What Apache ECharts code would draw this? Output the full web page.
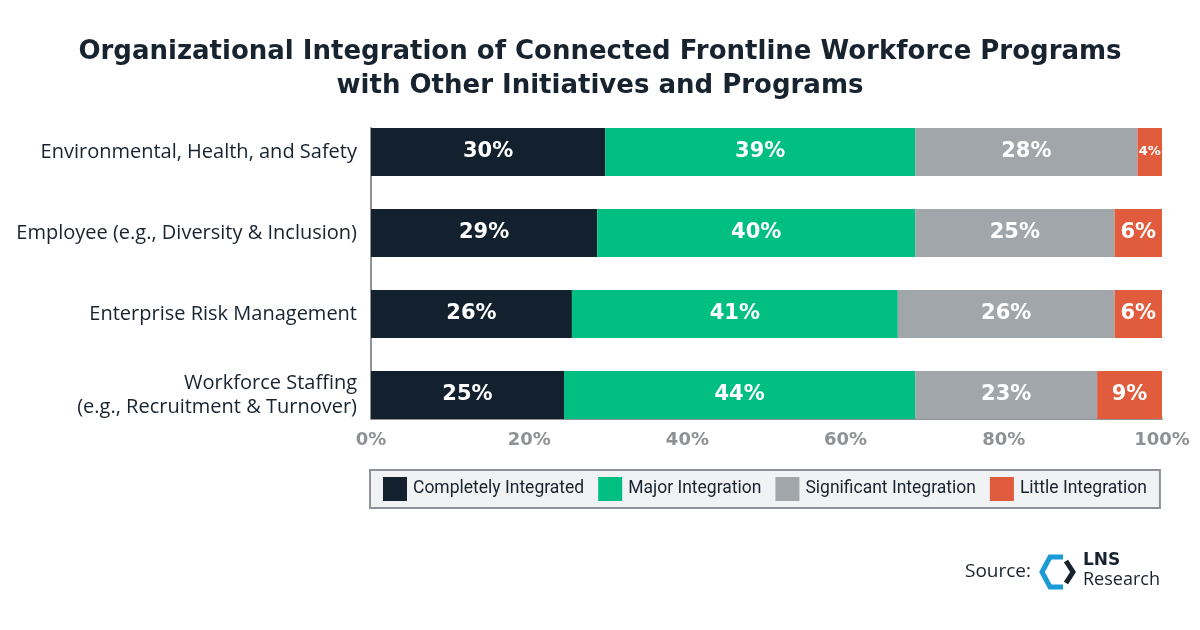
<!DOCTYPE html>
<html>
<head>
<meta charset="utf-8">
<script src="https://cdn.jsdelivr.net/npm/echarts@6/dist/echarts.min.js"></script>
<style>
  html, body { margin: 0; padding: 0; background: #fff; }
  #chart { width: 1200px; height: 630px; }
</style>
</head>
<body>
<div id="chart"></div>
<script>
// categories, top to bottom
var categories = [
  'Environmental, Health, and Safety',
  'Employee (e.g., Diversity & Inclusion)',
  'Enterprise Risk Management',
  'Workforce Staffing\n(e.g., Recruitment & Turnover)'
];
var seriesNames = ['Completely Integrated', 'Major Integration', 'Significant Integration', 'Little Integration'];

// segment widths (they don't always match the rounded labels)
var completely = [29.6, 28.6, 25.4, 24.4];
var major = [39.2, 40.2, 41.2, 44.4];
var significant = [28.1, 25.2, 27.4, 23.0];
var little = [3.1, 6.0, 6.0, 8.2];

// the printed labels
var completelyLbl = [30, 29, 26, 25];
var majorLbl = [39, 40, 41, 44];
var significantLbl = [28, 25, 26, 23];
var littleLbl = [4, 6, 6, 9];

var xTicks = [0, 20, 40, 60, 80, 100];

var colors = ['#13212f', '#00bf81', '#a1a6ab', '#e05c3d'];
var navy = '#17232f';

function makeSeries(idx, values, lbls) {
  return {
    name: seriesNames[idx],
    type: 'bar',
    stack: 'total',
    xAxisIndex: 0,
    yAxisIndex: 0,
    barWidth: 48,
    itemStyle: { color: colors[idx] },
    label: {
      show: true,
      position: 'inside',
      color: '#fff',
      fontFamily: 'DejaVu Sans',
      fontWeight: 'bold',
      fontSize: 21,
      formatter: function (p) { return lbls[p.dataIndex] + '%'; }
    },
    data: values.map(function (v) {
      // very thin segment gets a smaller label
      if (v < 4) return { value: v, label: { fontSize: 13 } };
      return v;
    })
  };
}

var chart = echarts.init(document.getElementById('chart'), null, { renderer: 'canvas' });

var option = {
  backgroundColor: '#fff',
  animation: false,
  title: {
    text: 'Organizational Integration of Connected Frontline Workforce Programs\nwith Other Initiatives and Programs',
    left: 'center',
    top: 30,
    textStyle: {
      fontFamily: 'DejaVu Sans',
      fontWeight: 'bold',
      fontSize: 26,
      lineHeight: 34,
      color: navy
    }
  },
  legend: {
    data: seriesNames,
    left: 370,
    top: 470,
    icon: 'rect',
    itemWidth: 24,
    itemHeight: 24,
    itemGap: 14,
    padding: [7, 13, 7, 13],
    backgroundColor: '#f1f2f3',
    borderColor: '#8f9296',
    borderWidth: 2,
    borderRadius: 0,
    textStyle: { fontFamily: 'Roboto', fontSize: 17.5, color: navy, padding: [0, 0, 0, 1] }
  },
  grid: [
    // bars
    { left: 371, right: 38, top: 111.5, bottom: 194.5 },
    // visible frame + ticks
    { left: 371, right: 38, top: 128, bottom: 211 }
  ],
  xAxis: [
    { gridIndex: 0, type: 'value', min: 0, max: 100, show: false },
    {
      gridIndex: 1, type: 'value', min: 0, max: 100, interval: 20,
      axisLine: { show: true, lineStyle: { color: '#8f9296', width: 2 } },
      axisTick: { show: false },
      splitLine: { show: false },
      axisLabel: {
        margin: 12,
        color: '#8e9195',
        fontFamily: 'DejaVu Sans',
        fontWeight: 'bold',
        fontSize: 18,
        formatter: function (v) { return xTicks.indexOf(v) > -1 ? v + '%' : ''; }
      }
    }
  ],
  yAxis: [
    {
      gridIndex: 0, type: 'category', inverse: true, data: categories,
      axisLine: { show: false },
      axisTick: { show: false },
      axisLabel: {
        margin: 14,
        color: navy,
        fontFamily: 'Open Sans',
        fontSize: 20,
        lineHeight: 24,
        padding: [4, 0, 0, 0],
        align: 'right'
      }
    },
    {
      gridIndex: 1, type: 'category', inverse: true, data: categories,
      axisLine: { show: true, lineStyle: { color: '#8f9296', width: 2 } },
      axisTick: { show: false },
      axisLabel: { show: false }
    }
  ],
  series: [
    makeSeries(0, completely, completelyLbl),
    makeSeries(1, major, majorLbl),
    makeSeries(2, significant, significantLbl),
    makeSeries(3, little, littleLbl)
  ],
  graphic: [
    // source + LNS logo
    {
      type: 'text', left: 965, top: 562,
      style: { text: 'Source:', font: '19px "Open Sans"', fill: navy }
    },
    {
      type: 'polyline',
      shape: { points: [[1063, 557], [1050, 557], [1042, 572], [1050, 587], [1063, 587]] },
      style: { stroke: '#1b9ad6', lineWidth: 5, fill: null, lineJoin: 'miter' }
    },
    {
      type: 'polyline',
      shape: { points: [[1066, 561], [1073, 572], [1066, 583]] },
      style: { stroke: navy, lineWidth: 5, fill: null, lineJoin: 'miter' }
    },
    {
      type: 'text', left: 1083, top: 552,
      style: { text: 'LNS', font: 'bold 17px "DejaVu Sans"', fill: navy }
    },
    {
      type: 'text', left: 1083, top: 571,
      style: { text: 'Research', font: '18px "Open Sans"', fill: navy }
    }
  ]
};

chart.setOption(option);
</script>
</body>
</html>
